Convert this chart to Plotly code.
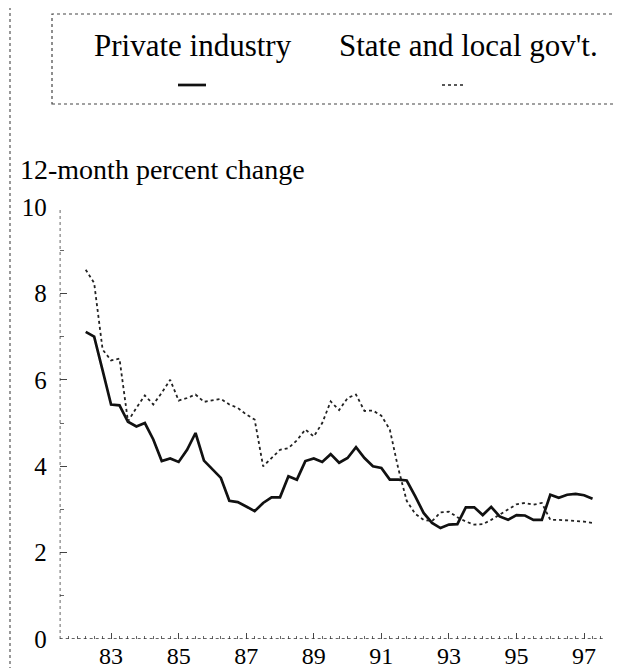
import plotly.graph_objects as go

# Quarterly dates (decimal years)
quarters = [1982.25 + 0.25 * i for i in range(61)]

private_industry = [
    7.11, 7.00, 6.22,
    5.43, 5.41, 5.03, 4.92,
    5.00, 4.62, 4.12, 4.18,
    4.10, 4.38, 4.77, 4.13,
    3.93, 3.73, 3.20, 3.17,
    3.07, 2.96, 3.15, 3.28,
    3.28, 3.77, 3.69, 4.12,
    4.18, 4.10, 4.28, 4.08,
    4.19, 4.44, 4.19, 4.00,
    3.96, 3.69, 3.69, 3.67,
    3.31, 2.92, 2.69, 2.57,
    2.65, 2.66, 3.05, 3.05,
    2.87, 3.06, 2.84, 2.76,
    2.87, 2.86, 2.76, 2.76,
    3.34, 3.27, 3.34, 3.36,
    3.33, 3.25,
]

state_local = [
    8.55, 8.24, 6.70,
    6.45, 6.49, 5.04, 5.35,
    5.64, 5.43, 5.70, 6.00,
    5.52, 5.58, 5.66, 5.49,
    5.52, 5.56, 5.43, 5.35,
    5.20, 5.08, 4.00, 4.20,
    4.38, 4.42, 4.60, 4.85,
    4.69, 5.00, 5.50, 5.30,
    5.58, 5.66, 5.28, 5.29,
    5.17, 4.85, 3.95, 3.20,
    2.90, 2.76, 2.73, 2.93,
    2.95, 2.82, 2.72, 2.65,
    2.66, 2.76, 2.88, 3.00,
    3.12, 3.15, 3.11, 3.15,
    2.76, 2.76, 2.75, 2.73,
    2.72, 2.69,
]

x_tick_vals = [1983, 1985, 1987, 1989, 1991, 1993, 1995, 1997]
x_tick_text = ["83", "85", "87", "89", "91", "93", "95", "97"]
y_tick_vals = [0, 2, 4, 6, 8, 10]

series_names = ["Private industry", "State and local gov't."]
axis_title = "12-month percent change"

W, H = 622, 668
SERIF = "Liberation Serif, Times New Roman, serif"
X0, X1 = 1981.48, 1997.61


def px(x):
    return x / W


def py(y):
    return 1 - y / H


fig = go.Figure()
fig.add_trace(go.Scatter(x=quarters, y=private_industry, mode="lines",
                         name=series_names[0],
                         line=dict(color="#111111", width=2.7)))
fig.add_trace(go.Scatter(x=quarters, y=state_local, mode="lines",
                         name=series_names[1],
                         line=dict(color="#222222", width=1.8, dash="dot")))

shapes = [
    # dotted axes
    dict(type="line", xref="x", yref="y", x0=X0, x1=X1, y0=0, y1=0,
         line=dict(color="#333333", width=1.5, dash="dot")),
    dict(type="line", xref="x", yref="y", x0=X0, x1=X0, y0=0, y1=10,
         line=dict(color="#333333", width=1.5, dash="dot")),
    # page border on the far left
    dict(type="line", xref="paper", yref="paper", x0=px(2), x1=px(2), y0=0, y1=1,
         line=dict(color="#555555", width=1.2, dash="dot")),
    # legend box
    dict(type="rect", xref="paper", yref="paper", x0=px(44), x1=px(612),
         y0=py(96), y1=py(6), line=dict(color="#444444", width=1.2, dash="dot")),
    # legend samples
    dict(type="line", xref="paper", yref="paper", x0=px(170), x1=px(198),
         y0=py(77), y1=py(77), line=dict(color="#111111", width=2.7)),
    dict(type="line", xref="paper", yref="paper", x0=px(434), x1=px(458),
         y0=py(77), y1=py(77), line=dict(color="#222222", width=1.5, dash="dot")),
]

annotations = [
    dict(text=axis_title, xref="paper", yref="paper", x=px(10), y=py(162),
         xanchor="left", yanchor="middle", showarrow=False,
         font=dict(family=SERIF, size=28, color="#000000")),
    dict(text=series_names[0], xref="paper", yref="paper", x=px(185), y=py(38),
         xanchor="center", yanchor="middle", showarrow=False,
         font=dict(family=SERIF, size=31, color="#000000")),
    dict(text=series_names[1], xref="paper", yref="paper", x=px(460), y=py(38),
         xanchor="center", yanchor="middle", showarrow=False,
         font=dict(family=SERIF, size=31, color="#000000")),
]

fig.update_layout(
    width=W, height=H,
    margin=dict(l=0, r=0, t=0, b=0),
    paper_bgcolor="white", plot_bgcolor="white",
    showlegend=False,
    shapes=shapes,
    annotations=annotations,
    xaxis=dict(
        domain=[51.7 / W, 596.7 / W], range=[X0, X1],
        tickvals=x_tick_vals, ticktext=x_tick_text,
        ticks="inside", ticklen=6, tickwidth=1, tickcolor="#444444",
        minor=dict(dtick=0.25, tick0=1982, ticks="inside", ticklen=3,
                   tickcolor="#666666", tickwidth=1, showgrid=False),
        showgrid=False, zeroline=False, showline=False,
        tickfont=dict(family=SERIF, size=24, color="#000000"),
        ticklabelstandoff=0, automargin=False, fixedrange=True,
    ),
    yaxis=dict(
        domain=[(H - 631.1) / H, (H - 199) / H], range=[0, 10],
        tickvals=y_tick_vals,
        ticks="inside", ticklen=7, tickwidth=1, tickcolor="#444444",
        minor=dict(dtick=1, tick0=1, ticks="inside", ticklen=4,
                   tickcolor="#666666", tickwidth=1, showgrid=False),
        showgrid=False, zeroline=False, showline=False,
        tickfont=dict(family=SERIF, size=25, color="#000000"),
        ticklabelstandoff=12, automargin=False, fixedrange=True,
    ),
)

fig.write_html("out.html")
